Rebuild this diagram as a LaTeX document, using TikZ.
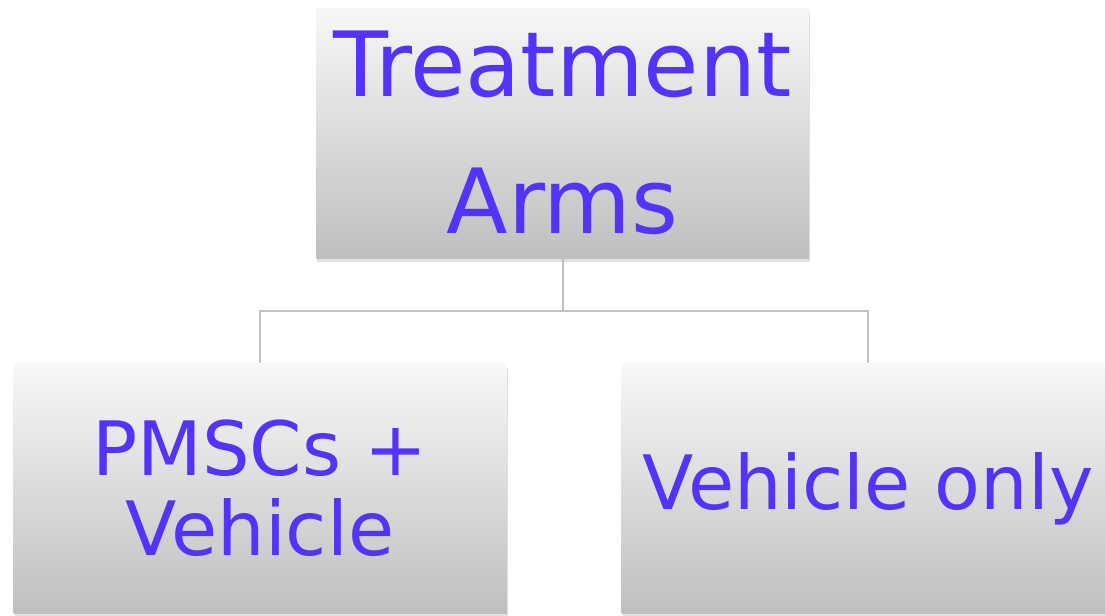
\documentclass[tikz,border=0pt]{standalone}
\usepackage{fontspec}
\setmainfont{DejaVu Sans}
\usepackage{tikz}
\usetikzlibrary{shadows}
\usetikzlibrary{positioning}
\definecolor{armtext}{RGB}{85,51,255}
\definecolor{linkgray}{RGB}{192,192,192}

\begin{document}
\begin{tikzpicture}[x=0.5pt,y=-0.5pt,
  armbox/.style={rectangle, inner sep=0pt, minimum width=246.5pt, minimum height=125pt,
    top color=white!97!black, bottom color=white!75!black, text=armtext, align=center,
    drop shadow={opacity=0.25, shadow xshift=0.5pt, shadow yshift=-2pt}},
  link/.style={draw=linkgray, line width=1pt}]

  \clip (0,0) rectangle (1105,616);

	%top box
  \node[armbox, font=\fontsize{45}{68.5}\selectfont] (arms) at (562.5,133) {Treatment\\Arms};

	%arms
  \node[armbox, font=\fontsize{37.5}{40}\selectfont] (pmscs) at (260,488.5) {PMSCs +\\Vehicle};
  \node[armbox, font=\fontsize{37.5}{40}\selectfont] (vehonly) at (868,488.5) {Vehicle only};

	%links
  \foreach \name in {pmscs, vehonly}{
    \draw[link] (arms.south) -- ++(0,-26.5pt) -| (\name.north);
  }

\end{tikzpicture}
\end{document}
